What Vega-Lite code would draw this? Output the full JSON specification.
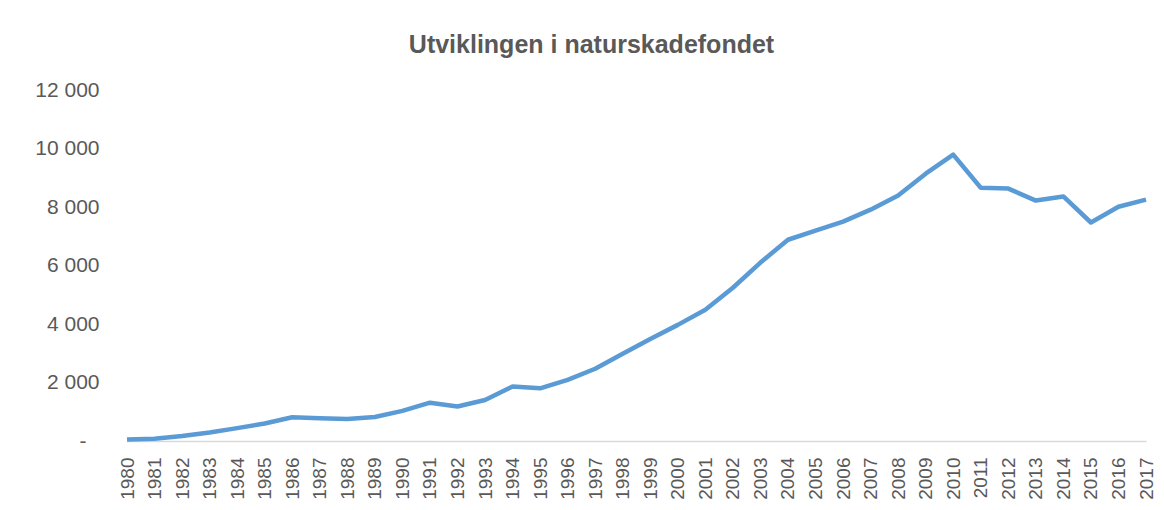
{
  "$schema": "https://vega.github.io/schema/vega-lite/v6.json",
  "width": 1019,
  "height": 351,
  "autosize": {"type": "none"},
  "padding": {"left": 127, "top": 90, "right": 18, "bottom": 69},
  "background": "white",
  "title": {
    "text": "Utviklingen i naturskadefondet",
    "font": "Liberation Sans",
    "fontSize": 25,
    "fontWeight": "bold",
    "color": "#595959",
    "anchor": "middle",
    "dx": -45,
    "offset": 21
  },
  "data": {
    "values": [
      {"year": "1980", "value": 50},
      {"year": "1981", "value": 80},
      {"year": "1982", "value": 170},
      {"year": "1983", "value": 290},
      {"year": "1984", "value": 440},
      {"year": "1985", "value": 600},
      {"year": "1986", "value": 810},
      {"year": "1987", "value": 780},
      {"year": "1988", "value": 750},
      {"year": "1989", "value": 820},
      {"year": "1990", "value": 1030},
      {"year": "1991", "value": 1310},
      {"year": "1992", "value": 1180},
      {"year": "1993", "value": 1400},
      {"year": "1994", "value": 1860},
      {"year": "1995", "value": 1800},
      {"year": "1996", "value": 2090},
      {"year": "1997", "value": 2470},
      {"year": "1998", "value": 2980},
      {"year": "1999", "value": 3490},
      {"year": "2000", "value": 3970},
      {"year": "2001", "value": 4490},
      {"year": "2002", "value": 5240},
      {"year": "2003", "value": 6100},
      {"year": "2004", "value": 6880},
      {"year": "2005", "value": 7190},
      {"year": "2006", "value": 7500},
      {"year": "2007", "value": 7910},
      {"year": "2008", "value": 8390},
      {"year": "2009", "value": 9140},
      {"year": "2010", "value": 9790},
      {"year": "2011", "value": 8660},
      {"year": "2012", "value": 8630},
      {"year": "2013", "value": 8220},
      {"year": "2014", "value": 8360},
      {"year": "2015", "value": 7470},
      {"year": "2016", "value": 8010},
      {"year": "2017", "value": 8250}
    ]
  },
  "mark": {"type": "line", "color": "#5B9BD5", "strokeWidth": 4.5, "strokeJoin": "round", "strokeCap": "butt"},
  "encoding": {
    "x": {
      "field": "year",
      "type": "ordinal",
      "scale": {"type": "point", "padding": 0},
      "axis": {
        "title": null,
        "labelAngle": -90,
        "labelFont": "Liberation Sans",
        "labelFontSize": 19,
        "labelColor": "#595959",
        "labelPadding": 16,
        "labelOverlap": false,
        "ticks": false,
        "domainColor": "#D9D9D9",
        "domainWidth": 1.3,
        "grid": false
      }
    },
    "y": {
      "field": "value",
      "type": "quantitative",
      "scale": {"domain": [0, 12000], "nice": false},
      "axis": {
        "title": null,
        "values": [0, 2000, 4000, 6000, 8000, 10000, 12000],
        "labelExpr": "datum.value == 0 ? '-' : replace(format(datum.value, ','), ',', ' ')",
        "labelFont": "Liberation Sans",
        "labelFontSize": 21,
        "labelColor": "#595959",
        "labelPadding": {"condition": {"test": "datum.value == 0", "value": 41}, "value": 28},
        "ticks": false,
        "domain": false,
        "grid": false
      }
    }
  },
  "config": {"view": {"stroke": null}}
}
